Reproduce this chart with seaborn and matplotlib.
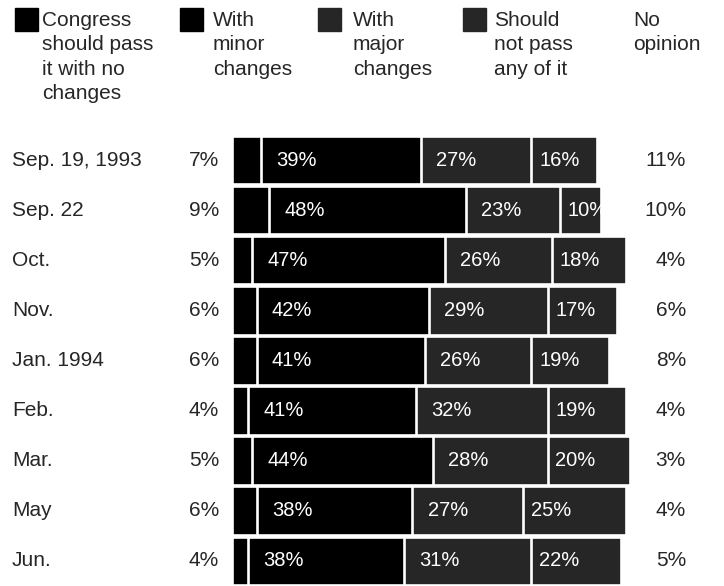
import matplotlib
matplotlib.use('Agg')
import matplotlib.pyplot as plt
import seaborn as sns
import numpy as np

# values (percent)
dates = ['Sep. 19, 1993', 'Sep. 22', 'Oct.', 'Nov.', 'Jan. 1994', 'Feb.', 'Mar.', 'May', 'Jun.']
no_changes = [7, 9, 5, 6, 6, 4, 5, 6, 4]
minor_changes = [39, 48, 47, 42, 41, 41, 44, 38, 38]
major_changes = [27, 23, 26, 29, 26, 32, 28, 27, 31]
not_pass = [16, 10, 18, 17, 19, 19, 20, 25, 22]
no_opinion = [11, 10, 4, 6, 8, 4, 3, 4, 5]

legend_labels = ['Congress\nshould pass\nit with no\nchanges', 'With\nminor\nchanges',
                 'With\nmajor\nchanges', 'Should\nnot pass\nany of it', 'No\nopinion']

BLACK = '#000000'
GRAY = '#262626'

sns.set_style('white')
plt.rcParams['font.family'] = ['Liberation Sans', 'DejaVu Sans']
FS = 15

W, H = 724, 586
fig = plt.figure(figsize=(W / 100, H / 100), dpi=100)
ax = fig.add_axes([0, 0, 1, 1])

c1 = np.array(no_changes)
c2 = c1 + np.array(minor_changes)
c3 = c2 + np.array(major_changes)
c4 = c3 + np.array(not_pass)

# stacked bars: draw the cumulative totals from the longest down
for cum, col in [(c4, GRAY), (c3, GRAY), (c2, BLACK), (c1, BLACK)]:
    sns.barplot(x=cum, y=dates, orient='h', color=col, saturation=1, width=0.97,
                edgecolor='white', linewidth=1.9, ax=ax)

# bars start at x=232 px, 4.1 px per percent; rows 50 px apart from y=160
px = 4.1
ax.set_xlim(-232 / px, (W - 232) / px)
ax.set_ylim((H - 160) / 50.1, -160 / 50.1)
ax.axis('off')

def xp(p):
    return (p - 232) / px

for i, d in enumerate(dates):
    ax.text(xp(12), i, d, ha='left', va='center', fontsize=FS)
    ax.text(xp(219), i, f'{no_changes[i]}%', ha='right', va='center', fontsize=FS)
    ax.text(c1[i] + 3.7, i, f'{minor_changes[i]}%', ha='left', va='center', fontsize=14.5, color='white')
    ax.text(c2[i] + 3.7, i, f'{major_changes[i]}%', ha='left', va='center', fontsize=14.5, color='white')
    ax.text(c3[i] + 1.9, i, f'{not_pass[i]}%', ha='left', va='center', fontsize=14.5, color='white')
    ax.text(xp(686), i, f'{no_opinion[i]}%', ha='right', va='center', fontsize=FS)

# legend across the top
sq = [(15, 8, BLACK), (180, 8, BLACK), (318, 8, GRAY), (463, 8, GRAY)]
for x0, y0, col in sq:
    ax.add_patch(plt.Rectangle((x0 / W, 1 - (y0 + 23) / H), 23 / W, 23 / H,
                               transform=ax.transAxes, color=col, clip_on=False))
for x0, lab in zip([42, 213, 353, 494, 633], legend_labels):
    ax.text(x0 / W, 1 - 11 / H, lab, transform=ax.transAxes, ha='left', va='top',
            fontsize=FS, linespacing=1.36)

plt.savefig('out.png', dpi=100)
